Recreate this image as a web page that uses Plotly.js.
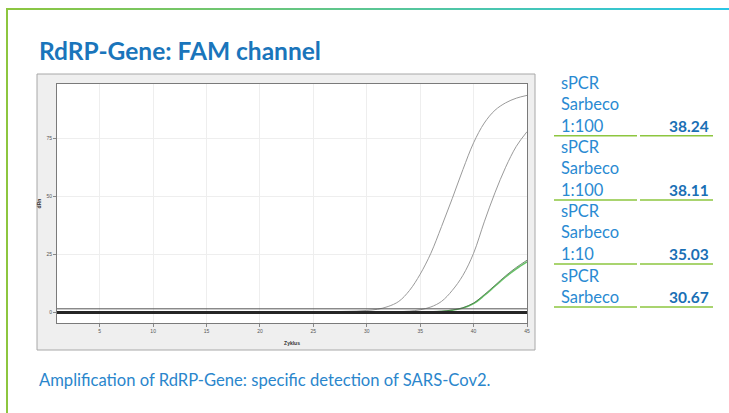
<!DOCTYPE html>
<html>
<head>
<meta charset="utf-8">
<script src="https://cdn.plot.ly/plotly-3.0.1.min.js"></script>
<style>
html,body{margin:0;padding:0;background:#fff;}
#wrap{position:relative;width:729px;height:413px;overflow:hidden;}
#plot{position:absolute;left:0;top:0;width:729px;height:413px;}
#topline{position:absolute;left:6px;top:8px;width:723px;height:2px;background:linear-gradient(to right,#8dc63f,#29c6e6);}
#leftline{position:absolute;left:6px;top:8px;width:2px;height:405px;background:#8dc63f;}
</style>
</head>
<body>
<div id="wrap">
<div id="plot"></div>
<div id="topline"></div>
<div id="leftline"></div>
</div>
<script>
// ---- data ----
var cycles = [1,2,3,4,5,6,7,8,9,10,11,12,13,14,15,16,17,18,19,20,21,22,23,24,25,26,27,28,29,30,31,32,33,34,35,36,37,38,39,40,41,42,43,44,45];
var sampleCt3067 = [0.1,0.1,0.1,0.2,0.2,0.2,0.2,0.2,0.2,0.2,0.2,0.2,0.2,0.2,0.2,0.2,0.2,0.2,0.2,0.2,0.2,0.2,0.2,0.2,0.3,0.3,0.4,0.5,0.6,0.9,1.4,2.6,4.8,9.5,16.5,25.5,37,49,61.5,73,81.5,87,90.2,92.2,93.4];
var sampleCt3503 = [0.2,0.2,0.2,0.2,0.2,0.2,0.2,0.2,0.2,0.2,0.2,0.2,0.2,0.2,0.2,0.2,0.2,0.2,0.2,0.2,0.2,0.2,0.2,0.2,0.3,0.3,0.3,0.3,0.3,0.3,0.3,0.3,0.4,0.6,1.2,2.4,4.8,9.5,16,25.5,39,51.5,62.5,71.5,77.8];
var sampleCt3824 = [0.1,0.1,0.1,0.1,0.1,0.1,0.1,0.1,0.1,0.1,0.1,0.1,0.1,0.1,0.1,0.1,0.1,0.1,0.1,0.1,0.1,0.1,0.1,0.1,0.2,0.3,0.3,0.3,0.3,0.3,0.3,0.3,0.3,0.3,0.3,0.3,0.5,1.0,1.9,3.8,7.3,11.3,15.3,18.8,21.8];
var sampleCt3811 = [0.1,0.1,0.1,0.1,0.1,0.1,0.1,0.1,0.1,0.1,0.1,0.1,0.1,0.1,0.1,0.1,0.1,0.1,0.1,0.1,0.1,0.1,0.1,0.1,0.2,0.3,0.3,0.3,0.3,0.3,0.3,0.3,0.3,0.3,0.3,0.4,0.6,1.1,2.1,4.1,7.7,11.7,15.8,19.4,22.5];
var baselineNTC = [0,0,0,0,0,0,0,0,0,0,0,0,0,0,0,0,0,0,0,0,0,0,0,0,0,0,0,0,0,0,0,0,0,0,0,0,0,0,0,0,0,0,0,0,0];
var thresholdX = [1,45];
var thresholdY = [1.6,1.6];
var yTicks = [0,25,50,75];
var sampleLabels = [["sPCR","Sarbeco","1:100"],["sPCR","Sarbeco","1:100"],["sPCR","Sarbeco","1:10"],["sPCR","Sarbeco"]];
var ctValues = ["38.24","38.11","35.03","30.67"];
var chartTitle = "RdRP-Gene: FAM channel";
var caption = "Amplification of RdRP-Gene: specific detection of SARS-Cov2.";

// ---- layout helpers (pixel -> paper) ----
var L=57, R=527, T=84, B=323;
function px(x){return (x-L)/(R-L);}
function py(y){return (B-y)/(B-T);}

var sm = {shape:'spline',smoothing:1};
var traces = [
 {x:cycles,y:sampleCt3067,mode:'lines',line:Object.assign({color:'#9a9a9a',width:1},sm),hoverinfo:'skip'},
 {x:cycles,y:sampleCt3503,mode:'lines',line:Object.assign({color:'#9a9a9a',width:1},sm),hoverinfo:'skip'},
 {x:cycles,y:sampleCt3824,mode:'lines',line:Object.assign({color:'#66c266',width:1.4},sm),hoverinfo:'skip'},
 {x:cycles,y:sampleCt3811,mode:'lines',line:Object.assign({color:'#355f35',width:0.7},sm),hoverinfo:'skip'},
 {x:thresholdX,y:thresholdY,mode:'lines',line:{color:'#555555',width:1},hoverinfo:'skip'},
 {x:cycles,y:baselineNTC,mode:'lines',line:{color:'#262626',width:3},hoverinfo:'skip'}
];

var shapes = [
 {type:'rect',xref:'paper',yref:'paper',x0:px(37),x1:px(535),y0:py(350),y1:py(74),fillcolor:'#efefef',line:{color:'#a8a8a8',width:1},layer:'below'},
 {type:'rect',xref:'paper',yref:'paper',x0:0,x1:1,y0:0,y1:1,fillcolor:'#ffffff',line:{width:0},layer:'below'}
];
var greenLines=[135.7,200,264,307];
greenLines.forEach(function(y){
  shapes.push({type:'line',xref:'paper',yref:'paper',x0:px(554),x1:px(637),y0:py(y),y1:py(y),line:{color:'#8dc63f',width:1.5}});
  shapes.push({type:'line',xref:'paper',yref:'paper',x0:px(640),x1:px(713),y0:py(y),y1:py(y),line:{color:'#8dc63f',width:1.5}});
});

var ann = [];
var ff = 'Lato, "Open Sans", sans-serif';
ann.push({xref:'paper',yref:'paper',x:px(37),y:py(51),xanchor:'left',yanchor:'middle',showarrow:false,text:'<b>'+chartTitle+'</b>',font:{family:ff,size:24.5,color:'#1a75bb'}});
ann.push({xref:'paper',yref:'paper',x:px(37),y:py(380),xanchor:'left',yanchor:'middle',showarrow:false,text:caption,font:{family:ff,size:16.6,color:'#2a86cc'}});
var rowTops=[83,147,211,276];
sampleLabels.forEach(function(lines,i){
  lines.forEach(function(t,j){
    ann.push({xref:'paper',yref:'paper',x:px(559),y:py(rowTops[i]+j*21.3),xanchor:'left',yanchor:'middle',showarrow:false,text:t,font:{family:ff,size:16.5,color:'#2a8ad2'}});
  });
  ann.push({xref:'paper',yref:'paper',x:px(711),y:py(rowTops[i]+(lines.length-1)*21.3),xanchor:'right',yanchor:'middle',showarrow:false,text:'<b>'+ctValues[i]+'</b>',font:{family:ff,size:15.5,color:'#1a6fb5'}});
});

var layout = {
 width:729,height:413,
 margin:{l:L,r:729-R,t:T,b:413-B,pad:0},
 paper_bgcolor:'rgba(0,0,0,0)',
 plot_bgcolor:'rgba(0,0,0,0)',
 showlegend:false,
 xaxis:{range:[1,45],tick0:0,dtick:5,showgrid:true,gridcolor:'#eeeeee',gridwidth:1,zeroline:false,
   showline:true,mirror:true,linecolor:'#7a7a7a',linewidth:1,ticks:'outside',ticklen:3,tickcolor:'#888',
   tickfont:{family:'Arial',size:5,color:'#555'},
   title:{text:'<b>Zyklus</b>',font:{family:'Arial',size:5,color:'#333'},standoff:8}},
 yaxis:{range:[-4.5,98.3],tickvals:yTicks,showgrid:true,gridcolor:'#eeeeee',gridwidth:1,zeroline:false,
   showline:true,mirror:true,linecolor:'#7a7a7a',linewidth:1,ticks:'outside',ticklen:3,tickcolor:'#888',
   tickfont:{family:'Arial',size:5,color:'#555'},
   title:{text:'<b>dRn</b>',font:{family:'Arial',size:5,color:'#333'},standoff:4}},
 shapes:shapes,
 annotations:ann
};
Plotly.newPlot('plot',traces,layout,{displayModeBar:false,staticPlot:true});
</script>
</body>
</html>
